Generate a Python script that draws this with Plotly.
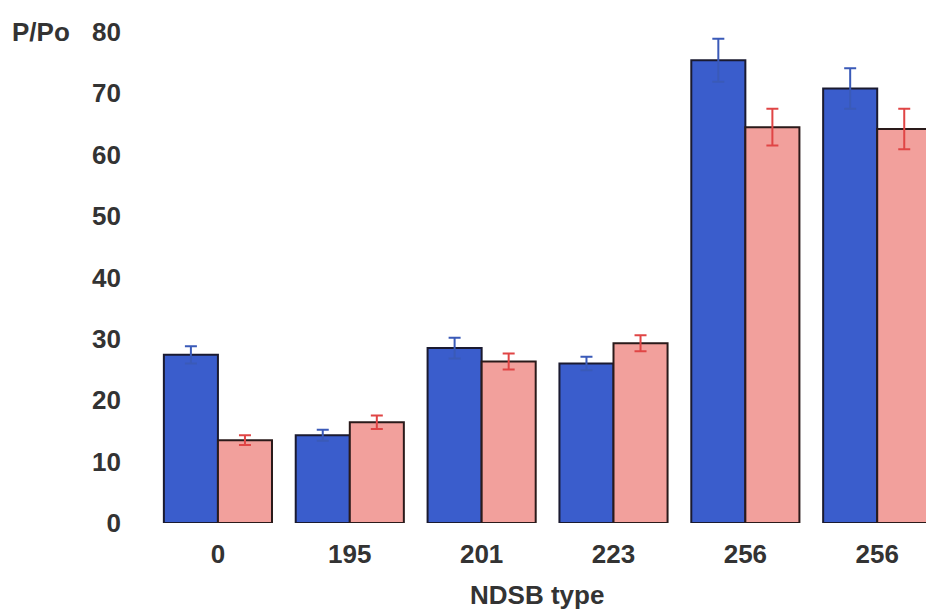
import plotly.graph_objects as go

categories = ["0", "195", "201", "223", "256", "256"]
blue_values = [27.4, 14.3, 28.5, 26.0, 75.4, 70.8]
blue_errors = [1.4, 0.9, 1.7, 1.1, 3.5, 3.3]
pink_values = [13.5, 16.4, 26.3, 29.3, 64.5, 64.2]
pink_errors = [0.8, 1.1, 1.3, 1.3, 3.0, 3.3]
y_ticks = [0, 10, 20, 30, 40, 50, 60, 70, 80]

x = list(range(len(categories)))
font = dict(family="Liberation Sans, Arial, Helvetica, sans-serif", size=26, color="#333333")

fig = go.Figure()
fig.add_trace(go.Bar(
    x=x, y=blue_values, name="blue",
    marker=dict(color="#3a5dcc", line=dict(color="#1a1a30", width=2)),
    error_y=dict(type="data", array=blue_errors, visible=True, color="#3a5ab8", thickness=2, width=6),
))
fig.add_trace(go.Bar(
    x=x, y=pink_values, name="pink",
    marker=dict(color="#f2a09c", line=dict(color="#2a1a1a", width=2)),
    error_y=dict(type="data", array=pink_errors, visible=True, color="#e04545", thickness=2, width=6),
))

fig.update_layout(
    width=926, height=610,
    margin=dict(l=152, r=0, t=32, b=87),
    paper_bgcolor="white", plot_bgcolor="white",
    barmode="group", bargap=0.18, bargroupgap=0,
    showlegend=False,
    font=dict(family=font["family"], color="#333333"),
)
fig.update_xaxes(
    range=[-0.5, 5.37], tickvals=x, ticktext=[f"<b>{c}</b>" for c in categories],
    showgrid=False, zeroline=False, showline=False, ticks="",
    tickfont=font, ticklabelstandoff=13,
)
fig.update_yaxes(
    range=[0, 80], tickvals=y_ticks, ticktext=[f"<b>{t}</b>" for t in y_ticks],
    showgrid=False, zeroline=False, showline=False, ticks="",
    tickfont=font, ticklabelstandoff=30,
)
fig.update_traces(cliponaxis=False)
fig.add_annotation(text="<b>P/Po</b>", xref="paper", yref="y", x=-0.184, y=80,
                   xanchor="left", yanchor="middle", showarrow=False, font=font)
fig.add_annotation(text="<b>NDSB type</b>", xref="paper", yref="paper", x=0.497, y=0,
                   yshift=-72, xanchor="center", yanchor="middle", showarrow=False, font=font)

fig.write_html("out.html")
